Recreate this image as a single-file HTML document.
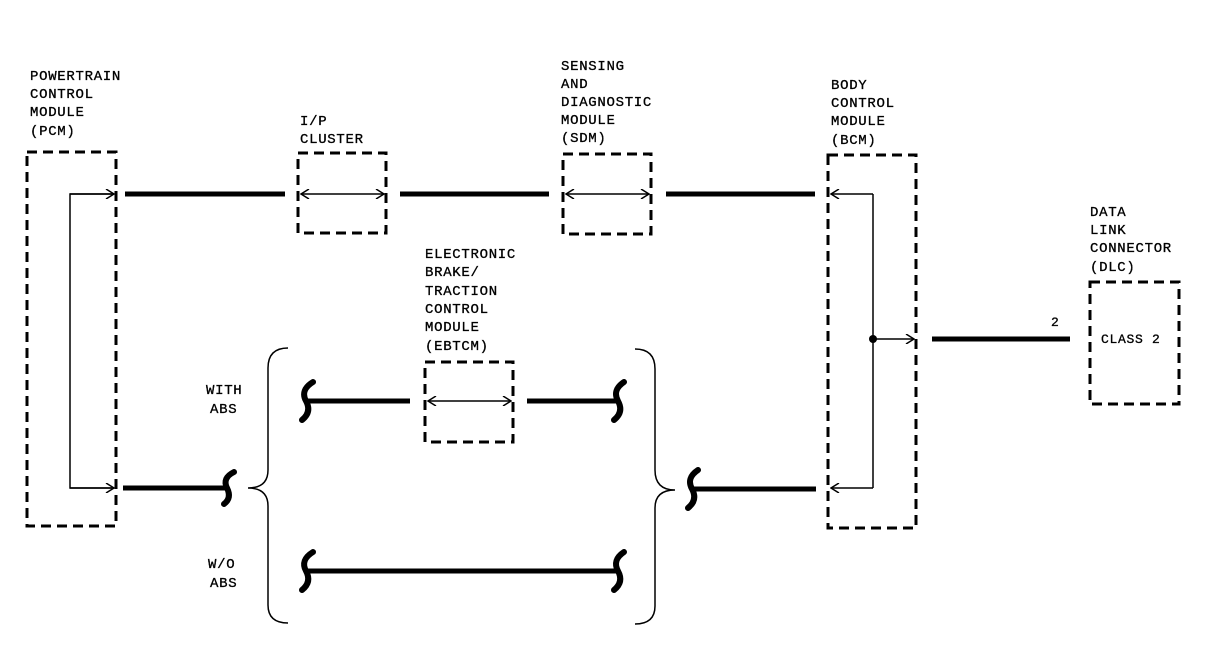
<!DOCTYPE html>
<html><head><style>
body{margin:0;background:#fff}
text{font-family:"Liberation Mono",monospace;font-size:14px;fill:#000;letter-spacing:0.7px;stroke:#000;stroke-width:0.3px}
</style></head><body>
<svg width="1216" height="656" viewBox="0 0 1216 656" xmlns="http://www.w3.org/2000/svg">
<defs>
<marker id="a" markerWidth="10" markerHeight="10" refX="9" refY="5" orient="auto" markerUnits="userSpaceOnUse"><path d="M1,0 L9,5 L1,10" fill="none" stroke="#000" stroke-width="1.5"/></marker>
<marker id="b" markerWidth="10" markerHeight="10" refX="1" refY="5" orient="auto" markerUnits="userSpaceOnUse"><path d="M9,0 L1,5 L9,10" fill="none" stroke="#000" stroke-width="1.5"/></marker>
</defs>
<g fill="none" stroke="#000" stroke-width="3" stroke-dasharray="10,6">
<rect x="27" y="152" width="89" height="374"/>
<rect x="298" y="153" width="88" height="80"/>
<rect x="563" y="154" width="88" height="80"/>
<rect x="828" y="155" width="88" height="373"/>
<rect x="425" y="362" width="88" height="80"/>
<rect x="1090" y="282" width="89" height="122"/>
</g>
<g fill="none" stroke="#000" stroke-width="1.5">
<path d="M114,194 H70 V488 H114" />
<line x1="70" y1="194" x2="114" y2="194" marker-end="url(#a)"/>
<line x1="70" y1="488" x2="114" y2="488" marker-end="url(#a)"/>
<line x1="301" y1="194" x2="384" y2="194" marker-start="url(#b)" marker-end="url(#a)"/>
<line x1="566" y1="194" x2="649" y2="194" marker-start="url(#b)" marker-end="url(#a)"/>
<line x1="428" y1="401" x2="511" y2="401" marker-start="url(#b)" marker-end="url(#a)"/>
<path d="M873,194 V488"/>
<line x1="873" y1="194" x2="831" y2="194" marker-end="url(#a)"/>
<line x1="873" y1="488" x2="831" y2="488" marker-end="url(#a)"/>
<line x1="873" y1="339" x2="914" y2="339" marker-end="url(#a)"/>
<path d="M288,348 Q268,348 268,368 V470 Q268,488 248,488 Q268,488 268,506 V605 Q268,623 288,623"/>
<path d="M635,349 Q655,349 655,369 V470 Q655,490 675,490 Q655,490 655,508 V606 Q655,624 635,624"/>
</g>
<circle cx="873" cy="339" r="4" fill="#000"/>
<g fill="none" stroke="#000" stroke-width="5">
<line x1="125" y1="194" x2="285" y2="194"/>
<line x1="400" y1="194" x2="549" y2="194"/>
<line x1="666" y1="194" x2="815" y2="194"/>
<line x1="932" y1="339" x2="1070" y2="339"/>
<line x1="123" y1="488" x2="228" y2="488"/>
<line x1="308" y1="401" x2="410" y2="401"/>
<line x1="527" y1="401" x2="620" y2="401"/>
<line x1="308" y1="571" x2="620" y2="571"/>
<line x1="692" y1="489" x2="816" y2="489"/>
</g>
<g fill="none" stroke="#000" stroke-width="6" stroke-linecap="round">
<path d="M234,472 Q222,478 227,488 Q232,498 224,504"/>
<path d="M313,382 Q300,390 306,401 Q312,412 302,420"/>
<path d="M624,382 Q612,390 618,401 Q624,412 614,420"/>
<path d="M313,552 Q300,560 306,571 Q312,582 302,590"/>
<path d="M624,552 Q612,560 618,571 Q624,582 614,590"/>
<path d="M698,470 Q686,478 692,489 Q698,500 688,508"/>
</g>
<text x="30" y="80">POWERTRAIN</text><text x="30" y="98">CONTROL</text><text x="30" y="116">MODULE</text><text x="30" y="135">(PCM)</text>
<text x="300" y="125">I/P</text><text x="300" y="143">CLUSTER</text>
<text x="561" y="70">SENSING</text><text x="561" y="88">AND</text><text x="561" y="106">DIAGNOSTIC</text><text x="561" y="124">MODULE</text><text x="561" y="142">(SDM)</text>
<text x="831" y="89">BODY</text><text x="831" y="107">CONTROL</text><text x="831" y="125">MODULE</text><text x="831" y="144">(BCM)</text>
<text x="425" y="258">ELECTRONIC</text><text x="425" y="276">BRAKE/</text><text x="425" y="295">TRACTION</text><text x="425" y="313">CONTROL</text><text x="425" y="331">MODULE</text><text x="425" y="350">(EBTCM)</text>
<text x="1090" y="216">DATA</text><text x="1090" y="234">LINK</text><text x="1090" y="252">CONNECTOR</text><text x="1090" y="271">(DLC)</text>
<text x="1101" y="343" style="font-size:13px">CLASS 2</text>
<text x="1051" y="326" style="font-size:13px">2</text>
<text x="206" y="394">WITH</text><text x="210" y="413">ABS</text>
<text x="208" y="568">W/O</text><text x="210" y="587">ABS</text>
</svg>
</body></html>
